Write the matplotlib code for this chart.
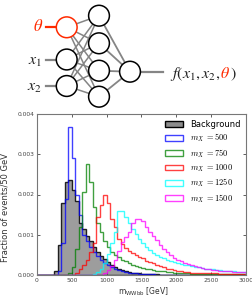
import numpy as np
import matplotlib
matplotlib.use('Agg')
import matplotlib.pyplot as plt
from matplotlib.patches import Circle, Patch
from matplotlib.ticker import FormatStrFormatter, MultipleLocator

# 50 GeV bins from 0 to 3000
edges = np.arange(0, 3001, 50)

bkg = [0, 0, 0, 0, 0,
       0.0001, 0.00075, 0.00178, 0.00232, 0.00236, 0.0021, 0.00185, 0.0013, 0.00115, 0.00098,
       0.00085, 0.0007, 0.00058, 0.00048, 0.0004, 0.00032, 0.00025, 0.0002, 0.00016, 0.00012,
       0.0001, 0.00008, 0.00006, 0.00005, 0.00004, 0.00003, 0.00003, 0.00002, 0.00002, 0.00002,
       0.00001,
       0.00001, 0.00001, 0.00001, 0.00001, 0.00001, 0.00001, 0.00001, 0.00001,
       0, 0, 0, 0, 0, 0, 0, 0, 0, 0, 0, 0, 0, 0, 0, 0]

m500 = [0, 0, 0, 0, 0, 0,
        0.0001, 0.0008, 0.0019, 0.00368, 0.0029, 0.002, 0.0015, 0.001, 0.00085,
        0.0007, 0.00056, 0.00046, 0.00037, 0.0003, 0.00025, 0.0002, 0.00016, 0.00013, 0.0001,
        0.00008, 0.00006, 0.00005, 0.00004, 0.00003,
        0.00002, 0.00002, 0.00002, 0.00002,
        0.00001, 0.00001, 0.00001, 0.00001, 0.00001, 0.00001, 0.00001, 0.00001, 0.00001, 0.00001,
        0, 0, 0, 0, 0, 0, 0, 0, 0, 0, 0, 0, 0, 0, 0, 0]

m750 = [0, 0, 0, 0, 0, 0, 0, 0, 0,
        0.00005, 0.0002, 0.00065, 0.0012, 0.00205, 0.00277, 0.0023, 0.00168, 0.00128, 0.00107,
        0.00085, 0.0007, 0.00057, 0.0005, 0.00044, 0.00038, 0.00034, 0.0003, 0.00026, 0.00023,
        0.0002, 0.00018, 0.00016, 0.00014, 0.00012, 0.00011, 0.0001, 0.00009, 0.00008, 0.00007,
        0.00006, 0.00005, 0.00005, 0.00004, 0.00004, 0.00003,
        0.00003, 0.00003, 0.00003, 0.00003, 0.00003,
        0.00002, 0.00002, 0.00002, 0.00002, 0.00002, 0.00002, 0.00002, 0.00002, 0.00002, 0.00002]

m1000 = [0, 0, 0, 0, 0, 0, 0, 0, 0, 0, 0,
         0.00005, 0.00015, 0.00025, 0.00037, 0.00058, 0.0008, 0.00144, 0.00173, 0.002,
         0.00179, 0.0014, 0.0012, 0.0009, 0.00078, 0.00068, 0.0006, 0.00054, 0.00049, 0.00045,
         0.00041, 0.00036, 0.00032, 0.00029, 0.00026, 0.00022, 0.00019, 0.00016, 0.00014, 0.00012,
         0.0001, 0.00009, 0.00008, 0.00007, 0.00006, 0.00006, 0.00005, 0.00005, 0.00004,
         0.00004, 0.00004, 0.00004,
         0.00003, 0.00003, 0.00003, 0.00003,
         0.00002, 0.00002, 0.00002, 0.00002]

m1250 = [0, 0, 0, 0, 0, 0, 0, 0, 0, 0, 0, 0, 0, 0, 0, 0,
         0.00003, 0.00008, 0.00015, 0.0003, 0.00052, 0.0008, 0.00107, 0.0016, 0.0016,
         0.00145, 0.0013, 0.00115, 0.00102, 0.0009, 0.0008, 0.0007, 0.00062, 0.00055, 0.0005,
         0.00045, 0.00041, 0.00038, 0.00035, 0.00032, 0.0003, 0.00028, 0.00026, 0.00024, 0.00022,
         0.0002, 0.00019, 0.00017, 0.00016, 0.00015, 0.00014, 0.00013, 0.00012, 0.00011, 0.0001,
         0.00009, 0.00009, 0.00008, 0.00008, 0.00007]

m1500 = [0, 0, 0, 0, 0, 0, 0, 0, 0, 0, 0, 0, 0, 0, 0, 0, 0, 0, 0,
         0.00004, 0.00012, 0.00022, 0.00037, 0.0006, 0.00082, 0.00095, 0.00108, 0.00129, 0.0014,
         0.0014, 0.00133, 0.0012, 0.00108, 0.00097, 0.00086, 0.00075, 0.00065, 0.00056, 0.00049,
         0.00043, 0.00038, 0.00034, 0.0003, 0.00027, 0.00024, 0.00022, 0.0002, 0.00018, 0.00016,
         0.00015, 0.00013, 0.00012, 0.00011, 0.0001, 0.00009, 0.00009, 0.00008, 0.00008, 0.00007,
         0.00007]

signals = [m500, m750, m1000, m1250, m1500]
masses = [500, 750, 1000, 1250, 1500]
colors = ['#0000ff', '#008000', '#ff0000', '#00ffff', '#ff00ff']

W, H = 253, 298
fig = plt.figure(figsize=(W / 100, H / 100), dpi=100)

# ---- network sketch on top, drawn in pixel coordinates ----
net = fig.add_axes([0, 0, 1, 1])
net.set_xlim(0, W)
net.set_ylim(H, 0)
net.axis('off')

inputs = [(66.7, 27.3), (66.7, 59.5), (66.7, 86.0)]
hidden = [(99.0, 15.7), (99.0, 43.3), (99.0, 70.7), (99.0, 96.7)]
out = (130.0, 71.7)
r = 10.4
gray = '#858585'

for p in inputs:
    for h in hidden:
        net.plot([p[0], h[0]], [p[1], h[1]], color=gray, lw=1.1, zorder=1)
for h in hidden:
    net.plot([h[0], out[0]], [h[1], out[1]], color=gray, lw=1.3, zorder=1)

net.plot([46, 57], [inputs[0][1]] * 2, color='#ff2a00', lw=1.6, zorder=1)
for p in inputs[1:]:
    net.plot([46, 57], [p[1]] * 2, color=gray, lw=1.6, zorder=1)
net.plot([140, 163], [out[1]] * 2, color=gray, lw=1.6, zorder=1)

for i, p in enumerate(inputs):
    ec = '#ff2a00' if i == 0 else 'black'
    net.add_patch(Circle(p, r, facecolor='white', edgecolor=ec, lw=1.1, zorder=3))
for h in hidden:
    net.add_patch(Circle(h, r, facecolor='white', edgecolor='black', lw=1.1, zorder=3))
net.add_patch(Circle(out, r, facecolor='white', edgecolor='black', lw=1.1, zorder=3))

fs = 11.5
net.text(43, 31, r'$\theta$', color='#ff2a00', fontsize=fs + 0.5, ha='right', va='baseline',
         math_fontfamily='stix')
net.text(42, 64.5, r'$x_1$', color='#222222', fontsize=fs, ha='right', va='baseline',
         math_fontfamily='stix')
net.text(42, 90.5, r'$x_2$', color='#222222', fontsize=fs, ha='right', va='baseline',
         math_fontfamily='stix')

renderer = fig.canvas.get_renderer()
xpos = 170
for piece, col in [(r'$f(x_1,x_2,$', '#222222'), (r'$\theta$', '#ff2a00'), (r'$)$', '#222222')]:
    t = net.text(xpos, 78.3, piece, color=col, fontsize=fs, ha='left', va='baseline',
                 math_fontfamily='stix')
    bb = t.get_window_extent(renderer)
    xpos = net.transData.inverted().transform((bb.x1, bb.y0))[0]

# ---- histogram ----
ax = fig.add_axes([37 / W, 1 - 275 / H, 209 / W, 161 / H])
centers = edges[:-1]
ax.hist(centers, bins=edges, weights=bkg, histtype='stepfilled',
        facecolor='#8c8c8c', edgecolor='black', lw=1.0, alpha=0.85)
for vals, c in zip(signals, colors):
    ax.hist(centers, bins=edges, weights=vals, histtype='step', color=c, lw=1.0, alpha=0.75)

ax.set_xlim(0, 3000)
ax.set_ylim(0, 0.004)
ax.xaxis.set_major_locator(MultipleLocator(500))
ax.yaxis.set_major_locator(MultipleLocator(0.001))
ax.yaxis.set_major_formatter(FormatStrFormatter('%.3f'))
ax.tick_params(direction='in', top=True, right=True, length=2.5, width=0.6,
               labelsize=4.3, labelcolor='#444444', color='#444444', pad=2)
for s in ax.spines.values():
    s.set_color('#777777')
    s.set_linewidth(0.8)

ax.set_xlabel(r'm$_{\mathrm{WWbb}}$ [GeV]', fontsize=5.5, color='#333333')
ax.xaxis.set_label_coords(0.51, -0.066)
ax.set_ylabel('Fraction of events/50 GeV', fontsize=6, color='#333333')
ax.yaxis.set_label_coords(-0.13, 0.42)

handles = [Patch(facecolor='#8c8c8c', edgecolor='black', lw=1.0, label='Background')]
for m, c in zip(masses, colors):
    handles.append(Patch(facecolor='none', edgecolor=c, lw=1.0, alpha=0.75,
                         label=r'$m_X\ =%d$' % m))
ax.legend(handles=handles, loc='upper right', frameon=False,
          prop={'size': 6, 'math_fontfamily': 'cm'}, labelspacing=0.35,
          handlelength=2.2, handletextpad=0.8, borderaxespad=0.3)

fig.savefig('out.png', dpi=100)
